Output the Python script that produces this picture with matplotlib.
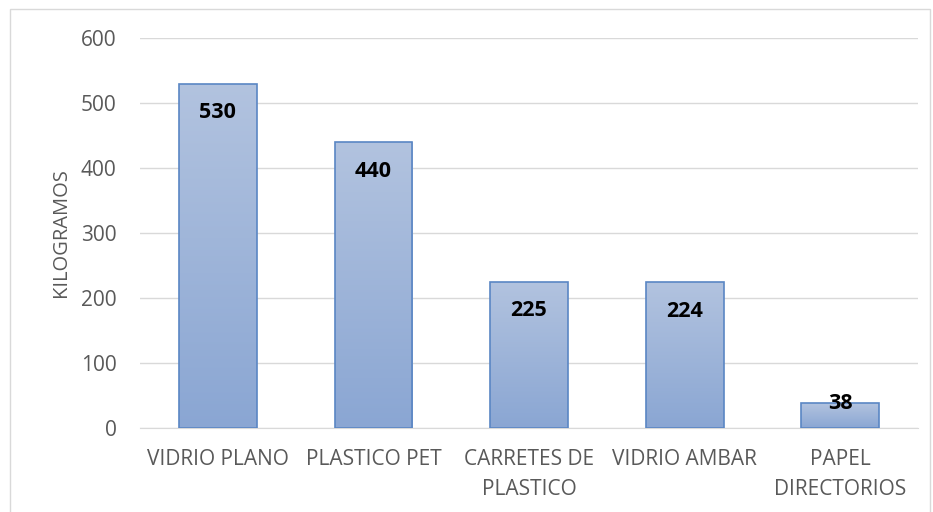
import numpy as np
import matplotlib
matplotlib.use("Agg")
import matplotlib.pyplot as plt
from matplotlib.patches import Rectangle
from matplotlib.colors import LinearSegmentedColormap

categories = ["VIDRIO PLANO", "PLASTICO PET", "CARRETES DE\nPLASTICO", "VIDRIO AMBAR", "PAPEL\nDIRECTORIOS"]
values = [530, 440, 225, 224, 38]
yticks = [0, 100, 200, 300, 400, 500, 600]

plt.rcParams["font.family"] = ["Open Sans", "DejaVu Sans"]

GRAY = "#595959"
fig = plt.figure(figsize=(9.33, 5.12), dpi=100)
ax = fig.add_axes([140 / 933, 1 - 428 / 512, 778 / 933, 390 / 512])

# borde del gráfico
fig.patches.append(Rectangle((10 / 933, -0.05), 0.986, 1 - 9 / 512 + 0.05,
                             transform=fig.transFigure, fill=False,
                             edgecolor="#d9d9d9", linewidth=1.0))

x = np.arange(len(categories))
bars = ax.bar(x, values, width=0.5, color="none", edgecolor="#5a86c4", linewidth=1.2, zorder=3)

cmap = LinearSegmentedColormap.from_list("g", ["#8aa6d3", "#b2c3df"])
grad = np.linspace(0, 1, 256).reshape(-1, 1)
for b in bars:
    x0, w, h = b.get_x(), b.get_width(), b.get_height()
    im = ax.imshow(grad, cmap=cmap, extent=[x0, x0 + w, 0, h], origin="lower",
                   aspect="auto", zorder=2)
    im.set_clip_path(b)

for xi, v in zip(x, values):
    ypos = v - 45 if v > 100 else v
    ax.text(xi, ypos, str(v), ha="center", va="center", fontsize=15.5,
            fontweight="bold", color="black", zorder=4)

ax.set_xlim(-0.5, len(categories) - 0.5)
ax.set_ylim(0, 600)
ax.set_yticks(yticks)
ax.yaxis.grid(True, color="#d9d9d9", linewidth=1.0, zorder=0)
ax.set_axisbelow(True)
for s in ["top", "right", "left"]:
    ax.spines[s].set_visible(False)
ax.spines["bottom"].set_color("#d9d9d9")
ax.tick_params(axis="both", length=0, labelsize=15, labelcolor=GRAY)
ax.tick_params(axis="y", pad=17)
ax.tick_params(axis="x", pad=15)
ax.set_xticks(x)
ax.set_xticklabels(categories, linespacing=1.55)
ax.set_ylabel("KILOGRAMOS", fontsize=14.5, color=GRAY, labelpad=7)

fig.savefig("out.png", dpi=100)
